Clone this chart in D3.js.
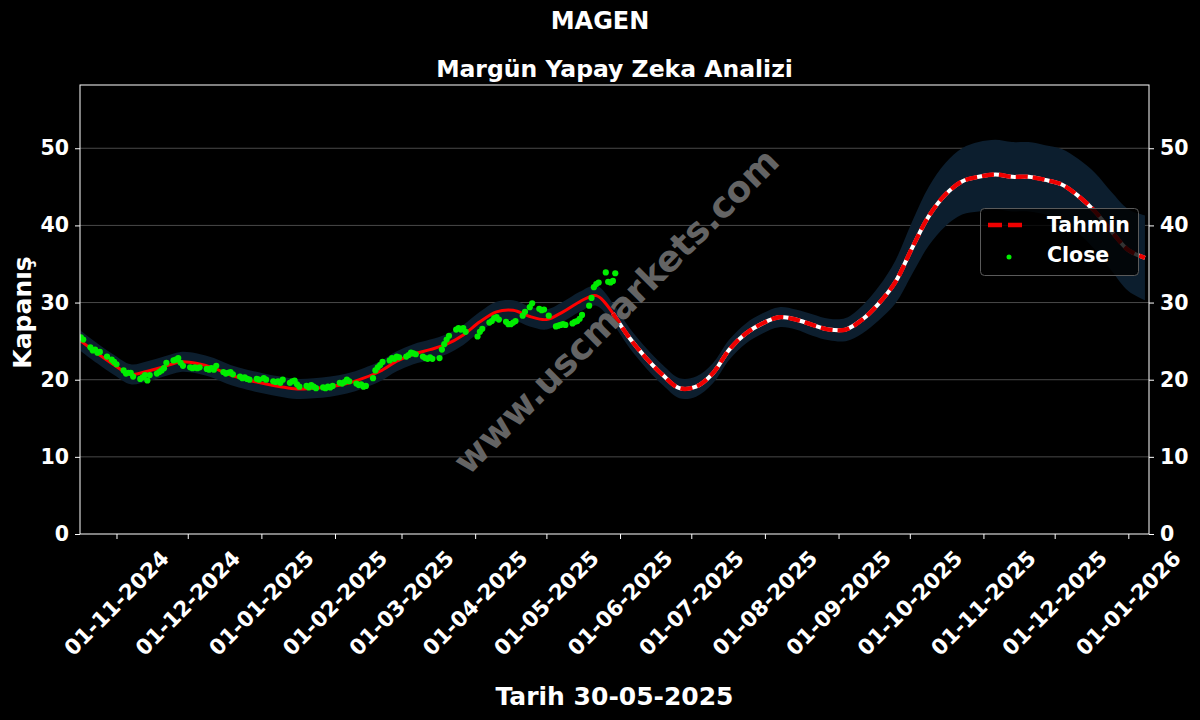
<!DOCTYPE html>
<html><head><meta charset="utf-8">
<script src="https://cdn.jsdelivr.net/npm/d3@7"></script>
<style>body{margin:0;background:#000}svg{display:block}text{font-family:"DejaVu Sans",sans-serif;font-weight:bold;fill:#fff}</style>
</head><body>
<svg id="c" width="1200" height="720"></svg>
<script>
// ---------- data ----------
const titleText = "MAGEN";
const subtitleText = "Margün Yapay Zeka Analizi";
const yLabelText = "Kapanış";
const xLabelText = "Tarih 30-05-2025";
const watermarkText = "www.uscmarkets.com";
const legendLabels = ["Tahmin", "Close"];

// forecast (Tahmin), one value every 7 days from predStart
const predStart = "2024-10-17";
const predStepDays = 7;
const predValues = [25.0, 23.4, 21.9, 20.7, 21.1, 21.7, 22.3, 22.1, 21.5, 20.6,
  20.0, 19.5, 19.1, 18.8, 18.9, 19.1, 19.5, 20.2, 21.1, 22.4,
  23.3, 23.9, 24.6, 25.8, 27.5, 28.8, 29.0, 28.2, 27.8, 28.8,
  30.1, 30.9, 28.6, 25.4, 22.8, 20.6, 18.9, 19.1, 20.8, 23.9,
  26.0, 27.3, 28.1, 27.8, 27.1, 26.5, 26.5, 27.8, 29.9, 32.7,
  37.1, 41.2, 44.0, 45.7, 46.3, 46.6, 46.3, 46.3, 45.9, 45.3,
  43.8, 41.8, 39.2, 36.8, 35.8];
const bandHalf = [1.3, 1.3, 1.3, 1.3, 1.3, 1.3, 1.3, 1.3, 1.3, 1.3,
  1.3, 1.3, 1.3, 1.3, 1.3, 1.3, 1.3, 1.3, 1.3, 1.3,
  1.3, 1.3, 1.3, 1.3, 1.3, 1.3, 1.3, 1.3, 1.3, 1.3,
  1.3, 1.3, 1.3, 1.3, 1.3, 1.3, 1.3, 1.3, 1.3, 1.3,
  1.3, 1.3, 1.3, 1.3, 1.4, 1.4, 1.5, 1.8, 2.2, 2.8,
  3.4, 3.8, 4.1, 4.3, 4.5, 4.5, 4.5, 4.5, 4.5, 4.6,
  4.8, 5.0, 5.1, 5.3, 5.5];
const forecastFromIndex = 32; // 29-05-2025 onwards drawn as forecast

// daily closes on trading days between closeStart and closeEnd
const closeStart = "2024-10-17";
const closeEnd = "2025-05-30";
const holidays = ["2024-10-29", "2025-01-01", "2025-03-31", "2025-04-01", "2025-04-23", "2025-05-01"];
const closeValues = [
  25.5, 25.2,
  24.2, 23.8, 23.9, 23.5, 23.6,
  23.0, 22.6, 22.3, 22.0,
  21.2, 20.8, 20.9, 20.9, 20.4,
  20.1, 20.3, 20.6, 19.9, 20.6,
  20.8, 21.0, 21.2, 21.5, 22.2,
  22.5, 22.6, 22.8, 22.2, 21.8,
  21.6, 21.5, 21.6, 21.5, 21.6,
  21.4, 21.3, 21.5, 21.3, 21.8,
  21.0, 20.8, 20.9, 21.0, 20.7,
  20.4, 20.2, 20.3, 20.1, 20.0,
  20.1, 20.0, 20.2, 20.0,
  19.8, 19.7, 19.8, 19.6, 20.0,
  19.6, 19.8, 19.9, 19.4, 19.1,
  19.2, 19.0, 19.3, 19.1, 18.9,
  19.0, 18.9, 19.1, 19.0, 19.2,
  19.6, 19.5, 19.7, 20.0, 19.8,
  19.5, 19.3, 19.4, 19.1, 19.2,
  20.2, 21.2, 21.6, 21.9, 22.3,
  22.5, 22.8, 22.7, 23.0, 22.9,
  23.0, 23.2, 23.5, 23.4, 23.3,
  23.0, 22.8, 22.7, 22.9, 22.7,
  22.8, 23.9, 24.6, 25.2, 25.7,
  26.5, 26.7, 26.5, 26.7, 26.2,
  25.6, 26.2, 26.6,
  27.4, 27.6, 28.0, 28.1, 27.8,
  27.5, 27.2, 27.2, 27.4, 27.6,
  28.3, 28.8, 29.4, 29.9,
  29.2, 29.0, 29.1, 28.3,
  26.9, 27.0, 27.1, 27.2, 27.1,
  27.3, 27.5, 27.6, 27.9, 28.4,
  29.6, 30.6, 32.0, 32.4, 32.6,
  33.9, 32.7, 32.6, 32.8, 33.8];

const yTicks = [0, 10, 20, 30, 40, 50];
const xTickDates = ["2024-11-01", "2024-12-01", "2025-01-01", "2025-02-01", "2025-03-01", "2025-04-01",
  "2025-05-01", "2025-06-01", "2025-07-01", "2025-08-01", "2025-09-01", "2025-10-01",
  "2025-11-01", "2025-12-01", "2026-01-01"];
const xDomain = ["2024-10-16T15:14:00Z", "2026-01-09T17:00:00Z"];
const yDomain = [0, 58.2];

// ---------- build ----------
const parse = s => new Date(s.length === 10 ? s + "T00:00:00Z" : s);
const DAY = 864e5;
const predData = predValues.map((v, i) => ({
  date: new Date(parse(predStart).getTime() + i * predStepDays * DAY),
  v, lo: v - bandHalf[i], hi: v + bandHalf[i]
}));
const tradingDays = [];
for (let t = parse(closeStart).getTime(); t <= parse(closeEnd).getTime(); t += DAY) {
  const d = new Date(t); const wd = d.getUTCDay();
  if (wd === 0 || wd === 6) continue;
  if (holidays.includes(d.toISOString().slice(0, 10))) continue;
  tradingDays.push(d);
}
const n = Math.min(tradingDays.length, closeValues.length);
const closeData = closeValues.slice(0, n).map((v, i) => ({ date: tradingDays[i], v }));

const M = { left: 80, right: 1149, top: 85, bottom: 534 };
const svg = d3.select("#c");
svg.append("rect").attr("width", 1200).attr("height", 720).attr("fill", "#000");

const x = d3.scaleUtc().domain(xDomain.map(parse)).range([M.left, M.right]);
const y = d3.scaleLinear().domain(yDomain).range([M.bottom, M.top]);

// grid
svg.append("g").selectAll("line").data(yTicks.filter(t => t > 0)).join("line")
  .attr("x1", M.left).attr("x2", M.right)
  .attr("y1", d => y(d)).attr("y2", d => y(d))
  .attr("stroke", "#5c5c5c").attr("stroke-width", 0.8);

svg.append("clipPath").attr("id", "plotclip").append("rect")
  .attr("x", M.left).attr("y", M.top).attr("width", M.right - M.left).attr("height", M.bottom - M.top);
const plot = svg.append("g").attr("clip-path", "url(#plotclip)");

// band
plot.append("path").datum(predData)
  .attr("d", d3.area().x(d => x(d.date)).y0(d => y(d.lo)).y1(d => y(d.hi)).curve(d3.curveCatmullRom))
  .attr("fill", "rgb(12,30,46)");

// watermark
const wx = 616, wy = 311;
svg.append("text").attr("x", wx).attr("y", wy)
  .attr("transform", `rotate(-45 ${wx} ${wy})`)
  .attr("text-anchor", "middle").attr("dominant-baseline", "central")
  .style("font-size", "36px").style("fill", "#646464")
  .text(watermarkText);

// prediction lines
const line = d3.line().x(d => x(d.date)).y(d => y(d.v)).curve(d3.curveCatmullRom);
const past = predData.slice(0, forecastFromIndex + 1);
const fut = predData.slice(forecastFromIndex);
plot.append("path").datum(past).attr("d", line)
  .attr("fill", "none").attr("stroke", "#ff0000").attr("stroke-width", 3);
plot.append("path").datum(fut).attr("d", line)
  .attr("fill", "none").attr("stroke", "#ffffff").attr("stroke-width", 4);
plot.append("path").datum(fut).attr("d", line)
  .attr("fill", "none").attr("stroke", "#ee0000").attr("stroke-width", 4.4)
  .attr("stroke-dasharray", "12,5");

// closes
plot.append("g").selectAll("circle").data(closeData).join("circle")
  .attr("cx", d => x(d.date)).attr("cy", d => y(d.v)).attr("r", 3.1)
  .attr("fill", "#00ee00");

// axes frame
svg.append("rect").attr("x", M.left).attr("y", M.top)
  .attr("width", M.right - M.left).attr("height", M.bottom - M.top)
  .attr("fill", "none").attr("stroke", "#fff").attr("stroke-width", 1);

// y axes
const yl = d3.axisLeft(y).tickValues(yTicks).tickSize(5).tickPadding(6).tickFormat(d3.format("d"));
const yr = d3.axisRight(y).tickValues(yTicks).tickSize(5).tickPadding(6).tickFormat(d3.format("d"));
const gyl = svg.append("g").attr("transform", `translate(${M.left},0)`).call(yl);
const gyr = svg.append("g").attr("transform", `translate(${M.right},0)`).call(yr);
[gyl, gyr].forEach(g => {
  g.select(".domain").remove();
  g.selectAll("line").attr("stroke", "#fff");
  g.selectAll("text").style("font-size", "20.5px").style("font-family", "DejaVu Sans").style("font-weight", "bold").attr("fill", "#fff");
});

// x axis
const xt = xTickDates.map(parse);
const gx = svg.append("g").attr("transform", `translate(0,${M.bottom})`)
  .call(d3.axisBottom(x).tickValues(xt).tickSize(5).tickFormat(""));
gx.select(".domain").remove();
gx.selectAll("line").attr("stroke", "#fff");
const fmt = d3.utcFormat("%d-%m-%Y");
svg.append("g").selectAll("text").data(xt).join("text")
  .attr("transform", d => `translate(${x(d)},${M.bottom + 69}) rotate(-45)`)
  .attr("text-anchor", "middle").attr("dominant-baseline", "central")
  .style("font-size", "21.5px").text(d => fmt(d));

// titles
svg.append("text").attr("x", 600).attr("y", 29).attr("text-anchor", "middle").style("font-size", "24px").text(titleText);
svg.append("text").attr("x", (M.left + M.right) / 2).attr("y", 77).attr("text-anchor", "middle").style("font-size", "23.5px").text(subtitleText);
svg.append("text").attr("x", (M.left + M.right) / 2).attr("y", 705).attr("text-anchor", "middle").style("font-size", "25px").text(xLabelText);
svg.append("text").attr("transform", `translate(31,${(M.top + M.bottom) / 2 + 3}) rotate(-90)`).attr("text-anchor", "middle").style("font-size", "25px").text(yLabelText);

// legend
const lg = svg.append("g");
lg.append("rect").attr("x", 980.5).attr("y", 208.5).attr("width", 158).attr("height", 67).attr("rx", 4)
  .attr("fill", "#000").attr("fill-opacity", 0.8).attr("stroke", "#5a5a5a").attr("stroke-width", 1);
lg.append("line").attr("x1", 988).attr("x2", 1028).attr("y1", 225).attr("y2", 225)
  .attr("stroke", "#ee0000").attr("stroke-width", 4.4).attr("stroke-dasharray", "14,6");
lg.append("circle").attr("cx", 1009).attr("cy", 257).attr("r", 2.5).attr("fill", "#00ee00");
lg.append("text").attr("x", 1047).attr("y", 232).style("font-size", "20.5px").text(legendLabels[0]);
lg.append("text").attr("x", 1047).attr("y", 262).style("font-size", "20.5px").text(legendLabels[1]);
</script>
</body></html>
